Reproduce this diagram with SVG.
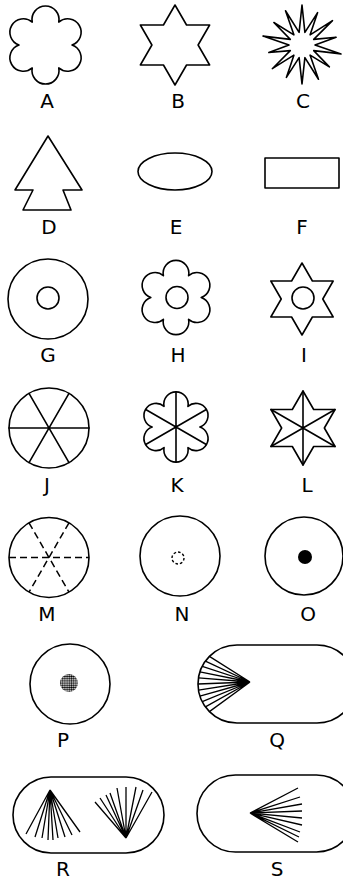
<svg xmlns="http://www.w3.org/2000/svg" width="343" height="881" viewBox="0 0 343 881">
<style>
.s{fill:none;stroke:#000;stroke-width:1.6;stroke-linejoin:round;stroke-linecap:round}
.d{fill:none;stroke:#000;stroke-width:1.5;stroke-dasharray:7 4}
.f{fill:none;stroke:#000;stroke-width:1.3}
.t{font-family:"DejaVu Sans",sans-serif;font-size:20px;text-anchor:middle;fill:#000}
</style>
<defs>
<pattern id="stip" width="2.2" height="2.2" patternUnits="userSpaceOnUse">
<circle cx="1.1" cy="1.1" r="0.95" fill="#000"/>
</pattern>
</defs>
<rect width="343" height="881" fill="#fff"/>

<g id="A" transform="translate(45.5,45)">
<path class="s" d="M26.5,0 A13.5,13.5 0 1 1 13.25,22.95 A13.5,13.5 0 1 1 -13.25,22.95 A13.5,13.5 0 1 1 -26.5,0 A13.5,13.5 0 1 1 -13.25,-22.95 A13.5,13.5 0 1 1 13.25,-22.95 A13.5,13.5 0 1 1 26.5,0 Z"/>
</g>
<text class="t" x="47" y="108">A</text>

<g id="B" transform="translate(175,45)">
<path class="s" d="M0,-40 L11.55,-20 L34.64,-20 L23.09,0 L34.64,20 L11.55,20 L0,40 L-11.55,20 L-34.64,20 L-23.09,0 L-34.64,-20 L-11.55,-20 Z"/>
</g>
<text class="t" x="178" y="108">B</text>

<g id="C" transform="translate(302,45)">
<path class="s" d="M0,-40 L2.89,-12.67 L15.62,-32.44 L8.11,-10.16 L30.49,-24.32 L11.71,-5.64 L34.12,-7.79 L13,0 L39,8.9 L11.71,5.64 L27.36,21.82 L8.11,10.16 L16.49,34.24 L2.89,12.67 L0,39 L-2.89,12.67 L-15.62,32.44 L-8.11,10.16 L-29.71,23.69 L-11.71,5.64 L-33.15,7.57 L-13,0 L-39,-8.9 L-11.71,-5.64 L-28.14,-22.45 L-8.11,-10.16 L-16.49,-34.24 L-2.89,-12.67 Z"/>
</g>
<text class="t" x="303" y="108">C</text>

<g id="D">
<path class="s" d="M48,136 L82,190 L63,190 L71,210 L23,210 L33,190 L15,190 Z"/>
</g>
<text class="t" x="49" y="234">D</text>

<g id="E">
<ellipse class="s" cx="175" cy="171.5" rx="37" ry="18.5"/>
</g>
<text class="t" x="176" y="234">E</text>

<g id="F">
<rect class="s" x="265" y="158" width="74" height="30"/>
</g>
<text class="t" x="302" y="234">F</text>

<g id="G">
<circle class="s" cx="48" cy="299" r="40"/>
<circle class="s" cx="48" cy="298" r="11"/>
</g>
<text class="t" x="48" y="362">G</text>

<g id="H" transform="translate(176,297.5)">
<path class="s" d="M25.18,0 A12.83,12.83 0 1 1 12.59,21.8 A12.83,12.83 0 1 1 -12.59,21.8 A12.83,12.83 0 1 1 -25.18,0 A12.83,12.83 0 1 1 -12.59,-21.8 A12.83,12.83 0 1 1 12.59,-21.8 A12.83,12.83 0 1 1 25.18,0 Z"/>
<circle class="s" cx="1" cy="0" r="11"/>
</g>
<text class="t" x="178" y="362">H</text>

<g id="I" transform="translate(302,299)">
<path class="s" d="M0,-36 L10.39,-18 L31.18,-18 L20.78,0 L31.18,18 L10.39,18 L0,36 L-10.39,18 L-31.18,18 L-20.78,0 L-31.18,-18 L-10.39,-18 Z"/>
<circle class="s" cx="1" cy="-1" r="11"/>
</g>
<text class="t" x="304" y="362">I</text>

<g id="J">
<circle class="s" cx="49" cy="428" r="40"/>
<path class="s" d="M9,428 H89 M29,393.4 L69,462.6 M69,393.4 L29,462.6"/>
</g>
<text class="t" x="47" y="492">J</text>

<g id="K" transform="translate(176,427)">
<path class="s" d="M23.85,0 A12.15,12.15 0 1 1 11.93,20.66 A12.15,12.15 0 1 1 -11.93,20.66 A12.15,12.15 0 1 1 -23.85,0 A12.15,12.15 0 1 1 -11.93,-20.66 A12.15,12.15 0 1 1 11.93,-20.66 A12.15,12.15 0 1 1 23.85,0 Z"/>
<path class="s" d="M0,-35 V35 M-30.3,-17.5 L30.3,17.5 M30.3,-17.5 L-30.3,17.5"/>
</g>
<text class="t" x="177" y="492">K</text>

<g id="L" transform="translate(303,428)">
<path class="s" d="M0,-37 L10.68,-18.5 L32.04,-18.5 L21.36,0 L32.04,18.5 L10.68,18.5 L0,37 L-10.68,18.5 L-32.04,18.5 L-21.36,0 L-32.04,-18.5 L-10.68,-18.5 Z"/>
<path class="s" d="M0,-37 V37 M-32.04,-18.5 L32.04,18.5 M32.04,-18.5 L-32.04,18.5"/>
</g>
<text class="t" x="307" y="492">L</text>

<g id="M">
<circle class="s" cx="49" cy="557.5" r="40"/>
<path class="d" d="M9,557.5 H89 M29,522.9 L69,592.1 M69,522.9 L29,592.1"/>
</g>
<text class="t" x="47" y="621">M</text>

<g id="N">
<circle class="s" cx="180" cy="556" r="40"/>
<circle cx="178" cy="558" r="6" fill="none" stroke="#000" stroke-width="1.4" stroke-dasharray="2.6 2"/>
</g>
<text class="t" x="182" y="621">N</text>

<g id="O">
<circle class="s" cx="304" cy="556" r="39"/>
<circle cx="305" cy="557" r="7" fill="#000"/>
</g>
<text class="t" x="308" y="621">O</text>

<g id="P">
<circle class="s" cx="70" cy="684" r="40"/>
<circle cx="69" cy="683" r="9" fill="url(#stip)"/>
</g>
<text class="t" x="63" y="747">P</text>

<g id="Q">
<rect class="s" x="198" y="645" width="158" height="78" rx="39"/>
<path class="f" d="M250,682 L209.4,711.6 M250,682 L205.4,706.9 M250,682 L202.3,701.7 M250,682 L199.9,696.1 M250,682 L198.5,690.1 M250,682 L198,684 M250,682 L198.5,677.9 M250,682 L199.9,671.9 M250,682 L202.3,666.3 M250,682 L205.4,661.1 M250,682 L209.4,656.4"/>
</g>
<text class="t" x="277" y="747">Q</text>

<g id="R">
<rect class="s" x="13" y="777" width="151" height="76" rx="38"/>
<path class="f" d="M50,790 L26,834 M50,790 L35,837 M50,790 L42,838 M50,790 L48,840 M50,790 L53,840 M50,790 L58,838 M50,790 L65,837 M50,790 L72,835 M50,790 L80,832"/>
<path class="f" d="M126,838 L95,802 M126,838 L100,798 M126,838 L106,795 M126,838 L110,793 M126,838 L117,788 M126,838 L126,787 M126,838 L136,787 M126,838 L143,790 M126,838 L152,792"/>
</g>
<text class="t" x="63" y="876">R</text>

<g id="S">
<rect class="s" x="197" y="775" width="158" height="77" rx="38.5"/>
<path class="f" d="M250,813 L298,788 M250,813 L300,797 M250,813 L302,804 M250,813 L302,811 M250,813 L302,818 M250,813 L302,825 M250,813 L300,832 M250,813 L299,837 M250,813 L298,842"/>
</g>
<text class="t" x="277" y="876">S</text>
</svg>
